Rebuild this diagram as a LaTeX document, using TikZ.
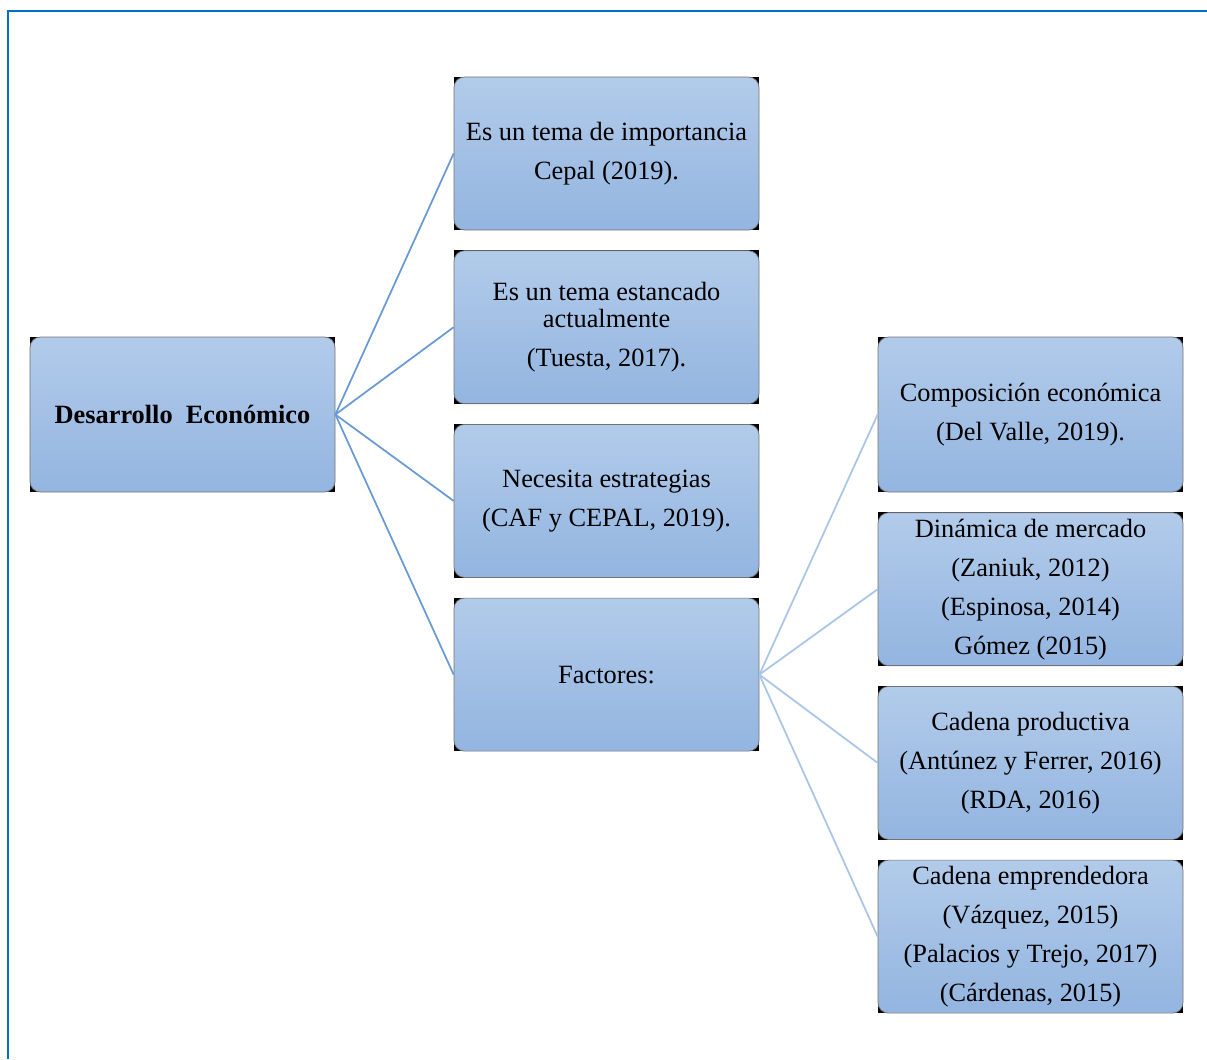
\documentclass[tikz,border=0pt]{standalone}
\usepackage{fontspec}
\setmainfont{Liberation Serif}
\usepackage{tikz}
\usetikzlibrary{positioning, backgrounds}
\tikzset{
    auto,node distance =0.4 cm and 2.38 cm,% gap between the stacked boxes
}
\definecolor{marco}{HTML}{0070C0}
\definecolor{linea}{HTML}{6A9AD4}
\definecolor{lineaclara}{HTML}{A9C5E8}
\definecolor{cajaarriba}{HTML}{B2CBEA}
\definecolor{cajaabajo}{HTML}{93B5E0}

\begin{document}
\begin{tikzpicture}
            [caja/.style={rectangle,rounded corners=6pt,top color=cajaarriba,bottom color=cajaabajo,
                draw=black!55,line width=0.4pt,minimum width=6.1cm,minimum height=3.06cm,
                align=center,inner sep=2pt,font=\fontsize{15}{22.2}\selectfont},
            rama/.style={draw=linea,line width=1pt},
            ramaclara/.style={draw=lineaclara,line width=1pt}]
            \useasboundingbox (0,0) rectangle (24.14,-21.18);
            \draw[marco,line width=1.2pt] (0.16,-21.18) -- (0.16,-0.22) -- (24.14,-0.22);
            \node(des) [caja,minimum height=3.1cm,font=\fontsize{15}{22.2}\selectfont\bfseries] at (3.65,-8.29) {Desarrollo\ \ Económico};
            \node(imp) [caja] at (12.13,-3.07) {Es un tema de importancia\\Cepal (2019).};
            \node(est) [caja,below=of imp] {Es un tema estancado\\[-6.8pt]actualmente\\(Tuesta, 2017).};
            \node(estr) [caja,below=of est] {Necesita estrategias\\(CAF y CEPAL, 2019).};
            \node(fac) [caja,below=of estr] {Factores:};
            \node(comp) [caja,minimum height=3.1cm] at (20.61,-8.29) {Composición económica\\(Del Valle, 2019).};
            \node(din) [caja,below=of comp] {Dinámica de mercado\\(Zaniuk, 2012)\\(Espinosa, 2014)\\Gómez (2015)};
            \node(cad) [caja,below=of din] {Cadena productiva\\(Antúnez y Ferrer, 2016)\\(RDA, 2016)};
            \node(emp) [caja,below=of cad] {Cadena emprendedora\\(Vázquez, 2015)\\(Palacios y Trejo, 2017)\\(Cárdenas, 2015)};
            \begin{scope}[on background layer]
                \foreach \n in {des,imp,est,estr,fac,comp,din,cad,emp}
                    \fill[black] (\n.south west) rectangle (\n.north east);
            \end{scope}
            \foreach \n in {imp,est,estr,fac}
                \draw[rama] (des.east) -- (\n.west);
            \foreach \n in {comp,din,cad,emp}
                \draw[ramaclara] (fac.east) -- (\n.west);
        \end{tikzpicture}
\end{document}
